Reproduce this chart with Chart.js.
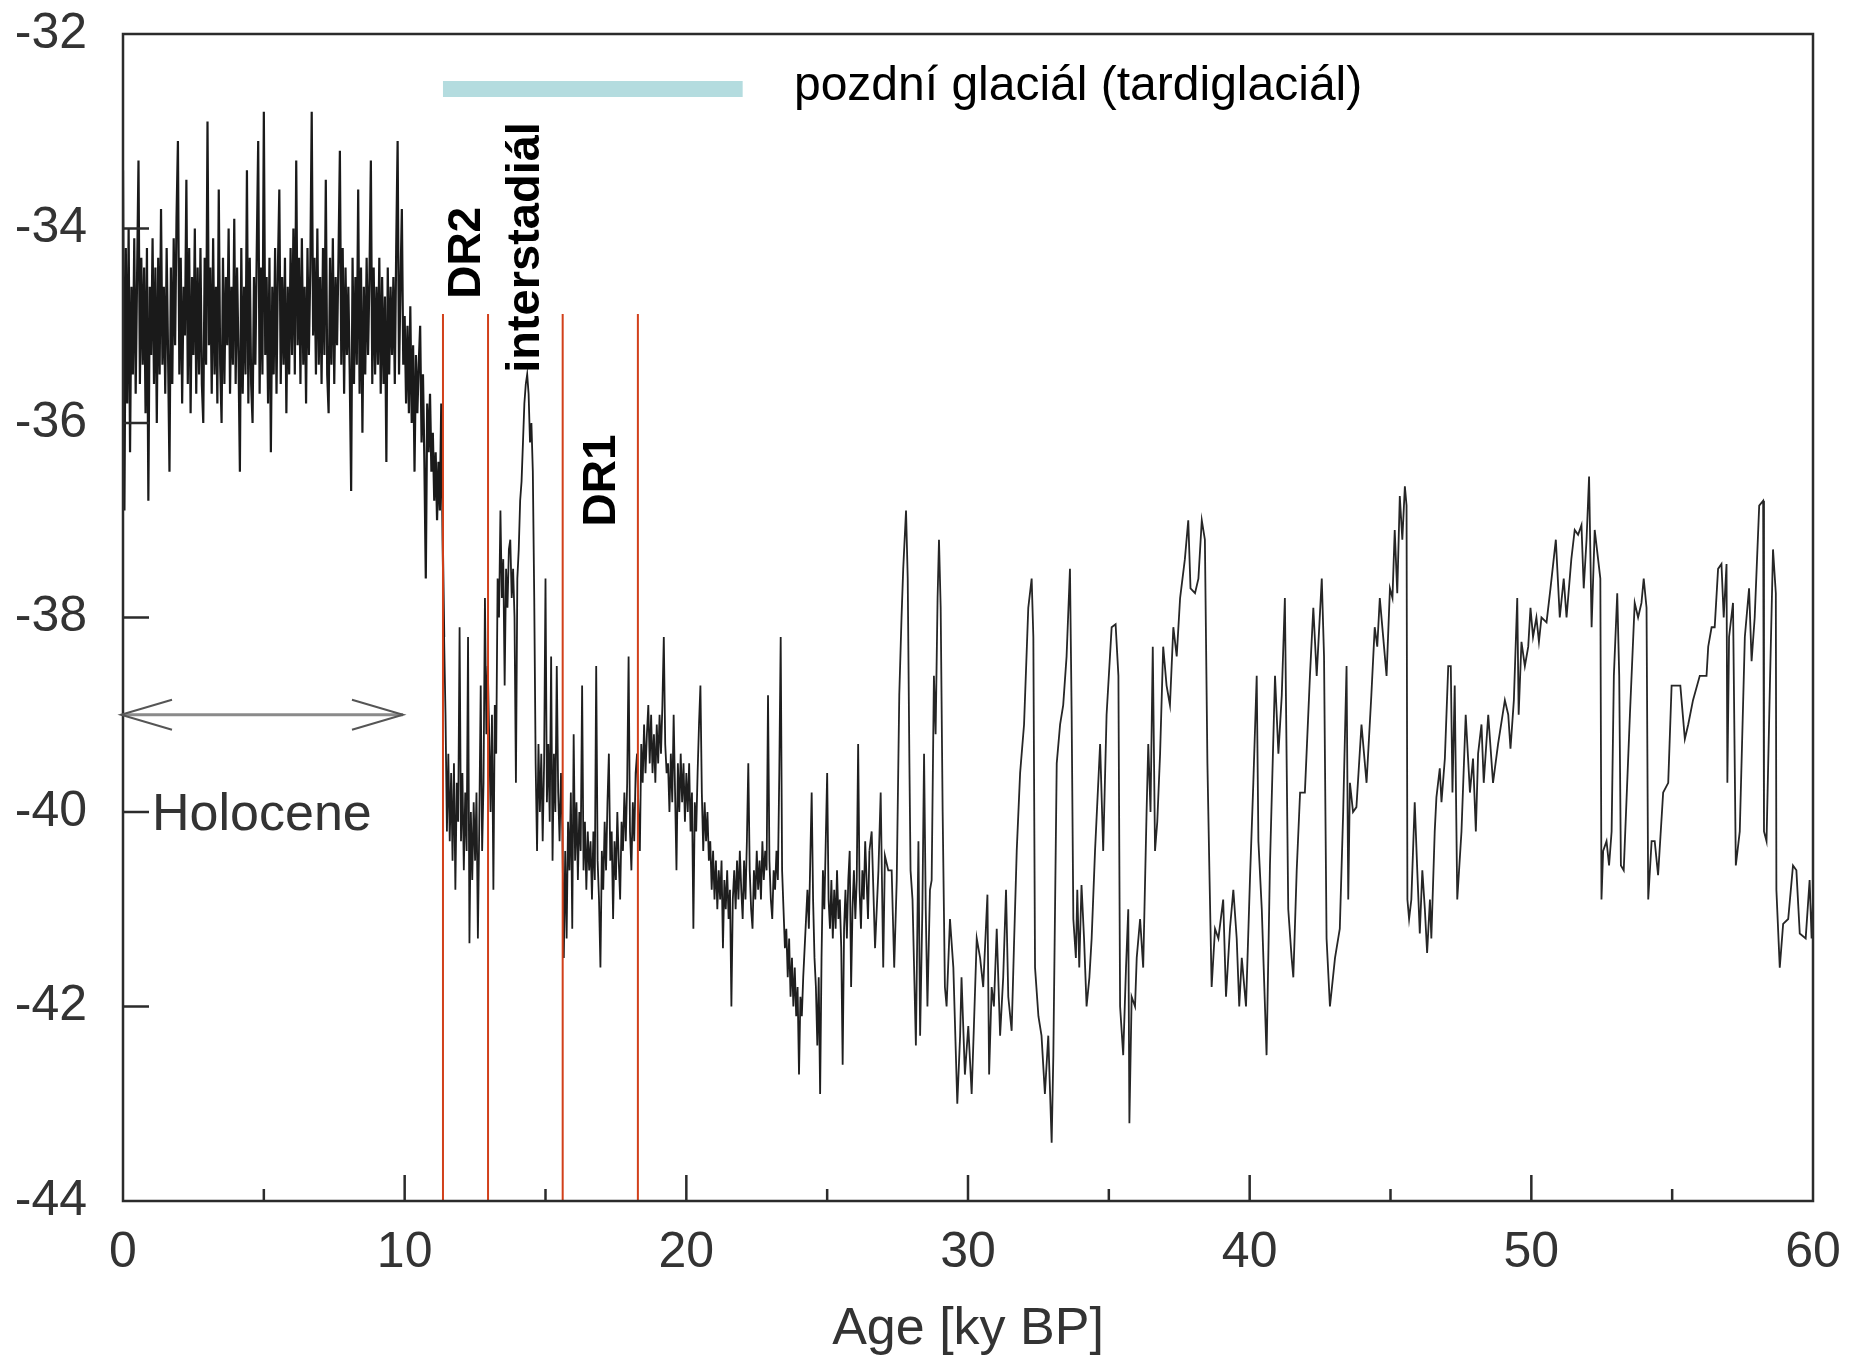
<!DOCTYPE html>
<html>
<head>
<meta charset="utf-8">
<script src="https://cdn.jsdelivr.net/npm/chart.js@4/dist/chart.umd.min.js"></script>
<style>
html,body{margin:0;padding:0;background:#fff;}
canvas{display:block;}
</style>
</head>
<body>
<canvas id="c" width="1849" height="1363"></canvas>
<script>
// ---------- DATA ----------
// Holocene section, ages in ky BP
const ageA = [
0,0.05,0.1,0.15,0.2,0.25,0.3,0.35,0.4,0.45,0.5,0.55,0.6,0.65,0.7,0.75,0.8,0.85,0.9,0.95,
1,1.05,1.1,1.15,1.2,1.25,1.3,1.35,1.4,1.45,1.5,1.55,1.6,1.65,1.7,1.75,1.8,1.85,1.9,1.95,
2,2.05,2.1,2.15,2.2,2.25,2.3,2.35,2.4,2.45,2.5,2.55,2.6,2.65,2.7,2.75,2.8,2.85,2.9,2.95,
3,3.05,3.1,3.15,3.2,3.25,3.3,3.35,3.4,3.45,3.5,3.55,3.6,3.65,3.7,3.75,3.8,3.85,3.9,3.95,
4,4.05,4.1,4.15,4.2,4.25,4.3,4.35,4.4,4.45,4.5,4.55,4.6,4.65,4.7,4.75,4.8,4.85,4.9,4.95,
5,5.05,5.1,5.15,5.2,5.25,5.3,5.35,5.4,5.45,5.5,5.55,5.6,5.65,5.7,5.75,5.8,5.85,5.9,5.95,
6,6.05,6.1,6.15,6.2,6.25,6.3,6.35,6.4,6.45,6.5,6.55,6.6,6.65,6.7,6.75,6.8,6.85,6.9,6.95,
7,7.05,7.1,7.15,7.2,7.25,7.3,7.35,7.4,7.45,7.5,7.55,7.6,7.65,7.7,7.75,7.8,7.85,7.9,7.95,
8,8.05,8.1,8.15,8.2,8.25,8.3,8.35,8.4,8.45,8.5,8.55,8.6,8.65,8.7,8.75,8.8,8.85,8.9,8.95,
9,9.05,9.1,9.15,9.2,9.25,9.3,9.35,9.4,9.45,9.5,9.55,9.6,9.65,9.7,9.75,9.8,9.85,9.9,9.95,
10,10.05,10.1,10.15,10.2,10.25,10.3,10.35,10.4,10.45,10.5,10.55,10.6,10.65,10.7,10.75,10.8,10.85,10.9,10.95,
11,11.05,11.1,11.15,11.2,11.25,11.3,11.35,11.4
];
const d18oA = [
-33.4,-36.9,-34.2,-35.8,-34.0,-36.3,-34.6,-35.5,-34.1,-35.7,-34.5,-33.3,-35.6,-34.3,-35.4,-34.4,-35.9,-34.2,-36.8,-34.6,
-35.3,-34.1,-35.6,-34.4,-36.0,-34.3,-35.5,-33.8,-35.4,-34.6,-35.7,-34.2,-35.3,-36.5,-34.4,-35.6,-34.1,-35.2,-33.9,-33.1,
-35.5,-34.3,-35.8,-34.6,-35.1,-33.5,-35.6,-34.2,-35.9,-34.5,-35.3,-34.0,-35.7,-34.4,-35.5,-34.2,-35.6,-36.0,-34.3,-35.4,
-32.9,-35.2,-34.4,-35.7,-34.1,-35.5,-34.6,-35.8,-33.6,-35.4,-36.0,-34.3,-35.6,-34.5,-35.2,-34.0,-35.7,-34.6,-35.4,-33.9,
-35.6,-34.4,-35.3,-36.5,-34.2,-35.7,-34.6,-35.5,-33.4,-35.8,-34.3,-35.6,-36.0,-34.5,-35.4,-34.2,-33.1,-35.7,-34.4,-35.5,
-32.8,-35.3,-34.5,-35.8,-34.3,-36.3,-34.6,-35.5,-34.2,-35.7,-34.4,-33.6,-35.6,-34.5,-35.4,-34.3,-35.9,-34.6,-35.5,-34.2,
-35.3,-34.0,-35.5,-33.3,-35.2,-34.3,-35.6,-34.1,-35.4,-34.6,-35.8,-34.2,-35.3,-34.4,-32.8,-35.1,-34.3,-35.5,-34.0,-35.4,
-34.5,-35.6,-34.2,-35.3,-33.5,-35.5,-35.9,-34.3,-35.4,-34.1,-35.6,-34.5,-35.2,-34.3,-33.2,-35.4,-34.2,-35.7,-34.4,-35.3,
-34.6,-35.5,-36.7,-34.3,-35.6,-34.5,-35.4,-33.6,-35.7,-34.4,-36.1,-34.6,-35.5,-34.3,-35.3,-34.5,-33.3,-35.6,-34.4,-35.5,
-34.6,-35.4,-34.3,-35.7,-34.5,-35.6,-34.7,-36.4,-34.4,-35.5,-34.6,-35.3,-34.5,-35.6,-34.2,-33.1,-35.5,-34.6,-33.8,-35.4,
-34.9,-35.8,-35.0,-35.9,-34.8,-36.0,-35.2,-36.5,-35.3,-35.9,-35.4,-35.0,-36.2,-35.5,-36.4,-37.6,-35.8,-36.3,-35.7,-36.5,
-36.1,-36.8,-36.3,-37.0,-36.4,-36.9,-35.8,-37.2,-38.2
];

// Late glacial and LGM section
const ageB = [
11.45,11.5,11.55,11.6,11.65,11.7,11.75,11.8,11.85,11.9,11.95,12,12.05,12.1,12.15,12.2,12.25,12.3,12.35,12.4,
12.45,12.5,12.55,12.6,12.65,12.7,12.75,12.8,12.85,12.9,12.95,13,13.05,13.1,13.15,13.2,13.25,13.3,13.35,13.4,
13.45,13.5,13.55,13.6,13.65,13.7,13.75,13.8,13.85,13.9,13.95,14,14.05,14.1,14.15,14.2,14.25,14.3,14.35,14.4,
14.45,14.5,14.55,14.6,14.65,14.7,14.75,14.8,14.85,14.9,14.95,15,15.05,15.1,15.15,15.2,15.25,15.3,15.35,15.4,
15.45,15.5,15.55,15.6,15.65,15.7,15.75,15.8,15.85,15.9,15.95,16,16.05,16.1,16.15,16.2,16.25,16.3,16.35,16.4,
16.45,16.5,16.55,16.6,16.65,16.7,16.75,16.8,16.85,16.9,16.95,17,17.05,17.1,17.15,17.2,17.25,17.3,17.35,17.4,
17.45,17.5,17.55,17.6,17.65,17.7,17.75,17.8,17.85,17.9,17.95,18,18.05,18.1,18.15,18.2,18.25,18.3,18.35,18.4,
18.45,18.5,18.55,18.6,18.65,18.7,18.75,18.8,18.85,18.9,18.95,19,19.05,19.1,19.15,19.2,19.25,19.3,19.35,19.4,
19.45,19.5,19.55,19.6,19.65,19.7,19.75,19.8,19.85,19.9,19.95,20,20.05,20.1,20.15,20.2,20.25,20.3,20.35,20.4,
20.45,20.5,20.55,20.6,20.65,20.7,20.75,20.8,20.85,20.9,20.95,21,21.05,21.1,21.15,21.2,21.25,21.3,21.35,21.4,
21.45,21.5,21.55,21.6,21.65,21.7,21.75,21.8,21.85,21.9,21.95,22,22.05,22.1,22.15,22.2,22.25,22.3,22.35,22.4,
22.45,22.5,22.55,22.6,22.65,22.7,22.75,22.8,22.85,22.9,22.95,23,23.05,23.1,23.15,23.2,23.25,23.3,23.35,23.4,
23.45,23.5,23.55,23.6,23.65,23.7,23.75,23.8,23.85,23.9,23.95,24,24.05,24.1,24.15,24.2,24.25,24.3,24.35,24.4,
24.45,24.5,24.55,24.6,24.65,24.7,24.75,24.8,24.85,24.9,24.95,25,25.05,25.1,25.15,25.2,25.25,25.3,25.35,25.4,
25.45,25.5,25.55,25.6,25.65,25.7,25.75,25.8,25.85,25.9,25.95,26,26.05,26.1,26.15,26.2,26.25,26.3,26.35,26.4,
26.45,26.5
];
const d18oB = [
-39.0,-40.2,-39.4,-40.3,-39.6,-40.5,-39.5,-40.8,-39.7,-40.1,-38.1,-40.3,-39.6,-40.6,-39.8,-40.4,-38.2,-41.35,-40.0,-40.7,
-39.9,-40.5,-39.8,-41.3,-40.1,-38.7,-40.4,-39.7,-37.8,-39.2,-38.5,-39.2,-40.0,-39.0,-40.8,-38.9,-39.4,-37.6,-38.0,-36.9,
-37.8,-37.4,-38.7,-37.5,-37.9,-37.3,-37.2,-37.8,-37.5,-38.0,-39.7,-37.6,-37.3,-36.8,-36.6,-36.2,-35.8,-35.6,-35.5,-35.7,
-36.2,-36.0,-36.5,-37.8,-39.5,-40.4,-39.3,-40.0,-39.4,-40.3,-39.5,-37.6,-39.9,-39.3,-40.1,-38.4,-40.5,-39.4,-40.0,-38.5,
-39.8,-40.3,-39.6,-40.2,-41.5,-40.4,-41.3,-40.1,-40.6,-39.8,-41.2,-39.2,-40.5,-39.9,-40.7,-40.0,-40.4,-38.7,-40.6,-40.1,
-40.8,-40.2,-40.6,-40.3,-40.9,-40.2,-40.7,-38.5,-40.5,-40.9,-41.6,-40.4,-40.8,-40.1,-40.6,-39.9,-39.4,-40.5,-40.2,-41.1,
-40.3,-40.7,-40.0,-40.5,-40.9,-40.1,-40.4,-39.8,-40.3,-39.7,-38.4,-40.2,-40.6,-39.9,-40.3,-39.6,-39.4,-40.0,-40.4,-39.3,
-39.7,-39.1,-39.6,-39.2,-38.9,-39.5,-39.0,-39.6,-39.2,-39.7,-39.1,-39.5,-39.0,-39.4,-38.9,-38.2,-39.3,-39.6,-39.5,-40.0,
-39.4,-39.9,-39.0,-39.8,-40.6,-39.5,-40.0,-39.4,-39.9,-39.5,-40.1,-39.6,-40.0,-39.5,-40.2,-39.8,-41.2,-39.9,-40.2,-39.6,
-39.1,-38.7,-39.8,-40.4,-39.9,-40.3,-40.0,-40.5,-40.3,-40.8,-40.4,-40.9,-40.5,-41.0,-40.6,-40.9,-40.5,-41.4,-40.7,-41.0,
-40.6,-41.1,-40.8,-42.0,-40.9,-40.6,-41.0,-40.5,-40.9,-40.4,-40.8,-41.1,-40.5,-40.9,-40.3,-39.5,-40.6,-41.0,-41.2,-40.6,
-40.9,-40.4,-40.8,-40.5,-40.9,-40.3,-40.7,-40.4,-40.6,-38.8,-40.5,-40.9,-41.1,-40.6,-40.8,-40.4,-40.7,-39.6,-38.2,-40.6,
-41.0,-41.4,-41.2,-41.7,-41.3,-41.9,-41.5,-42.0,-41.6,-42.1,-41.8,-42.7,-41.9,-42.1,-41.7,-41.4,-41.1,-40.8,-41.2,-40.5,
-39.8,-40.9,-41.5,-41.8,-42.4,-41.7,-42.9,-41.5,-40.6,-41.0,-40.3,-39.6,-40.9,-41.2,-40.7,-41.3,-40.8,-41.2,-40.6,-41.1,
-40.9,-41.4,-42.6,-41.2,-40.8,-41.3,-40.7,-40.4,-41.8,-41.0,-40.6,-41.1,-40.7,-39.3,-40.8,-41.2,-40.6,-40.9,-40.3,-40.7,
-41.1,-40.4
];

// Glacial stadial / interstadial section
const ageC = [
26.58,26.70,26.82,26.90,26.99,27.05,27.17,27.29,27.38,27.47,
27.56,27.64,27.70,27.80,27.86,27.92,27.96,28.03,28.15,28.24,
28.30,28.38,28.44,28.50,28.56,28.65,28.71,28.79,28.85,28.92,
28.97,29.03,29.10,29.18,29.24,29.36,29.48,29.62,29.72,29.77,
29.89,30.01,30.13,30.21,30.31,30.43,30.54,30.69,30.75,30.84,
30.92,31.02,31.14,31.25,31.35,31.43,31.55,31.63,31.73,31.85,
31.99,32.14,32.26,32.32,32.38,32.50,32.61,32.73,32.85,32.97,
33.03,33.15,33.27,33.38,33.50,33.62,33.68,33.74,33.83,33.88,
33.95,34.03,34.12,34.21,34.31,34.39,34.51,34.69,34.80,34.92,
35.10,35.24,35.34,35.40,35.51,35.61,35.69,35.73,35.81,35.93,
35.99,36.11,36.22,36.34,36.40,36.48,36.56,36.64,36.72,36.82,
36.93,37.05,37.17,37.29,37.41,37.53,37.70,37.82,37.90,38.06,
38.18,38.30,38.41,38.50,38.57,38.65,38.77,38.89,39.06,39.16,
39.30,39.42,39.54,39.63,39.72,39.87,40.01,40.13,40.25,40.31,
40.43,40.60,40.72,40.90,41.02,41.14,41.25,41.37,41.49,41.55,
41.67,41.79,41.96,42.14,42.26,42.38,42.56,42.64,42.73,42.85,
43.03,43.20,43.32,43.44,43.50,43.56,43.67,43.79,43.97,44.15,
44.32,44.44,44.53,44.62,44.74,44.86,44.98,45.07,45.15,45.24,
45.33,45.42,45.51,45.57,45.60,45.66,45.74,45.86,45.95,46.04,
46.13,46.22,46.30,46.40,46.45,46.57,46.63,46.75,46.81,46.93,
47.05,47.14,47.20,47.28,47.37,47.52,47.67,47.82,47.93,48.03,
48.11,48.23,48.31,48.47,48.64,48.82,49.06,49.18,49.26,49.38,
49.50,49.55,49.65,49.77,49.89,49.97,50.06,50.18,50.27,50.36,
50.54,50.68,50.87,51.01,51.15,51.25,51.42,51.54,51.66,51.78,
51.86,51.96,52.05,52.14,52.25,52.37,52.45,52.49,52.55,52.67,
52.76,52.85,52.93,53.05,53.12,53.18,53.28,53.50,53.67,53.79,
53.91,53.99,54.09,54.15,54.27,54.38,54.50,54.68,54.86,54.98,
55.15,55.29,55.45,55.57,55.74,55.98,56.22,56.28,56.40,56.51,
56.63,56.75,56.83,56.93,56.96,57.02,57.16,57.26,57.40,57.58,
57.73,57.82,57.93,58.09,58.23,58.26,58.35,58.47,58.58,58.68,
58.70,58.82,58.94,59.12,59.29,59.41,59.53,59.74,59.88,59.95,
60.00
];
const d18oC = [
-40.2,-41.4,-40.6,-39.8,-41.6,-40.45,-40.6,-40.6,-41.6,-40.7,
-38.8,-38.0,-37.5,-36.9,-37.6,-39.5,-40.6,-40.9,-42.4,-40.3,
-42.3,-41.0,-39.4,-41.0,-42.0,-40.8,-40.7,-38.6,-39.2,-37.8,
-37.2,-37.9,-40.0,-41.8,-42.0,-41.1,-41.6,-43.0,-42.3,-41.7,
-42.7,-42.2,-42.9,-42.2,-41.3,-41.5,-41.8,-40.85,-42.7,-41.8,
-42.0,-41.2,-42.3,-41.7,-40.8,-41.9,-42.25,-41.4,-40.4,-39.6,
-39.1,-37.9,-37.6,-38.2,-41.6,-42.1,-42.3,-42.9,-42.3,-43.4,
-42.5,-39.5,-39.1,-38.9,-38.4,-37.5,-39.0,-41.1,-41.5,-40.8,
-41.6,-40.75,-41.3,-42.0,-41.7,-41.3,-40.4,-39.3,-40.4,-39.0,
-38.1,-38.07,-38.6,-42.0,-42.5,-41.6,-41.0,-43.2,-41.9,-42.0,
-41.5,-41.1,-41.6,-40.0,-39.3,-40.0,-38.3,-40.4,-40.1,-39.4,
-38.3,-38.7,-38.9,-38.1,-38.4,-37.8,-37.4,-37.0,-37.7,-37.75,
-37.6,-37.0,-37.2,-39.5,-40.6,-41.8,-41.2,-41.3,-40.9,-41.9,
-41.2,-40.8,-41.3,-42.0,-41.5,-42.0,-40.7,-39.7,-38.6,-40.3,
-41.0,-42.5,-40.55,-38.6,-39.4,-38.8,-37.8,-41.0,-41.5,-41.7,
-40.6,-39.8,-39.8,-38.6,-37.9,-38.6,-37.6,-38.4,-41.3,-42.0,
-41.5,-41.2,-40.0,-38.5,-40.9,-39.7,-40.0,-39.95,-39.1,-39.7,
-38.8,-38.1,-38.3,-37.8,-38.2,-38.6,-37.7,-37.8,-37.1,-37.75,
-36.75,-37.2,-36.65,-36.85,-40.9,-41.1,-40.9,-39.9,-40.6,-41.25,
-40.6,-41.0,-41.45,-40.9,-41.3,-40.2,-39.85,-39.55,-39.9,-39.45,
-38.5,-38.5,-39.8,-38.7,-40.9,-40.2,-39.0,-39.8,-39.45,-40.2,
-39.4,-39.1,-39.7,-39.0,-39.7,-39.3,-38.85,-39.0,-39.35,-38.85,
-37.8,-39.0,-38.25,-38.5,-38.3,-37.9,-38.2,-38.0,-38.25,-38.0,
-38.05,-37.7,-37.2,-38.0,-37.6,-38.0,-37.4,-37.1,-37.15,-37.05,
-37.7,-37.2,-36.55,-38.1,-37.1,-37.4,-37.6,-40.9,-40.4,-40.3,
-40.55,-40.2,-38.6,-37.75,-38.6,-40.55,-40.6,-39.0,-37.85,-38.0,
-37.85,-37.6,-37.9,-40.9,-40.3,-40.3,-40.65,-39.8,-39.7,-38.7,
-38.7,-38.7,-39.25,-39.1,-38.85,-38.6,-38.6,-38.3,-38.1,-38.1,
-37.5,-37.45,-38.0,-37.45,-39.7,-38.2,-37.85,-40.55,-40.2,-38.2,
-37.7,-38.45,-38.0,-36.85,-36.8,-40.2,-40.3,-38.7,-37.3,-37.75,
-40.8,-41.6,-41.15,-41.1,-40.55,-40.6,-41.25,-41.3,-40.7,-41.3,
-40.9
];

// Axis ticks
const xTickLabels = [0, 10, 20, 30, 40, 50, 60];
const xMinorTicks = [5, 15, 25, 35, 45, 55];
const yTickLabels = [-44, -42, -40, -38, -36, -34, -32];
const yTickMarks = [-42, -40, -38, -36, -34];

// Annotated ages (ky BP)
const boundaryAges = [11.36, 12.96, 15.61, 18.28];   // red boundary lines
const lateGlacialSpan = [11.36, 22.0];                 // teal bar
const holoceneSpan = [0, 9.94];                        // arrow

// ---------- LAYOUT / STYLE (not data) ----------
const FONT = '"Liberation Sans", Arial, Helvetica, sans-serif';
const AREA = {left: 123, top: 34, right: 1813, bottom: 1201};
const ANN = {
  boundaryTop: -34.88,
  barLevel: -32.565,
  arrowLevel: -39.0,
  glacialText: {x: 23.82, y: -32.68},
  dr2: {x: 12.68, y: -34.25},
  inter: {x: 14.785, y: -34.195},
  dr1: {x: 17.465, y: -36.59},
  holocene: {x: 1.03, y: -40.185}
};

function toPoints(ages, vals) {
  const n = Math.min(ages.length, vals.length);
  const out = [];
  for (let i = 0; i < n; i++) out.push({x: ages[i], y: vals[i]});
  return out;
}
const ptsA = toPoints(ageA, d18oA);
const ptsB = [ptsA[ptsA.length - 1]].concat(toPoints(ageB, d18oB));
const ptsC = [ptsB[ptsB.length - 1]].concat(toPoints(ageC, d18oC));

const datasets = [];
boundaryAges.forEach(a => datasets.push({
  data: [{x: a, y: ANN.boundaryTop}, {x: a, y: -44}],
  borderColor: '#d2401a', borderWidth: 2, pointRadius: 0, fill: false
}));
datasets.push({
  data: [{x: lateGlacialSpan[0], y: ANN.barLevel}, {x: lateGlacialSpan[1], y: ANN.barLevel}],
  borderColor: '#b4dcdf', borderWidth: 16, borderCapStyle: 'butt', pointRadius: 0, fill: false
});
datasets.push({
  data: [{x: holoceneSpan[0], y: ANN.arrowLevel}, {x: holoceneSpan[1], y: ANN.arrowLevel}],
  borderColor: '#8a8a8a', borderWidth: 3, pointRadius: 0, fill: false
});
datasets.push({data: ptsC, borderColor: '#262626', borderWidth: 1.8, pointRadius: 0, fill: false});
datasets.push({data: ptsB, borderColor: '#1e1e1e', borderWidth: 1.8, pointRadius: 0, fill: false});
datasets.push({data: ptsA, borderColor: '#1a1a1a', borderWidth: 2.2, pointRadius: 0, fill: false});

const decorPlugin = {
  id: 'decor',
  afterDatasetsDraw(chart) {
    const {ctx, chartArea: a, scales: {x, y}} = chart;
    ctx.save();
    // frame
    ctx.strokeStyle = '#2b2b2b';
    ctx.lineWidth = 2.5;
    ctx.strokeRect(a.left, a.top, a.right - a.left, a.bottom - a.top);
    // inward tick marks
    ctx.beginPath();
    xTickLabels.concat(xMinorTicks).forEach(v => {
      if (v <= 0 || v >= 60) return;
      const px = x.getPixelForValue(v);
      const len = (v % 10 === 0) ? 26 : 12;
      ctx.moveTo(px, a.bottom); ctx.lineTo(px, a.bottom - len);
    });
    yTickMarks.forEach(v => {
      const py = y.getPixelForValue(v);
      ctx.moveTo(a.left, py); ctx.lineTo(a.left + 26, py);
    });
    ctx.stroke();
    // Holocene arrow heads
    const ay = y.getPixelForValue(ANN.arrowLevel);
    const lx = x.getPixelForValue(holoceneSpan[0]) - 2;
    const rx = x.getPixelForValue(holoceneSpan[1]);
    ctx.strokeStyle = '#555';
    ctx.lineWidth = 2;
    ctx.beginPath();
    ctx.moveTo(lx + 51, ay - 15); ctx.lineTo(lx, ay); ctx.lineTo(lx + 51, ay + 15);
    ctx.moveTo(rx - 51, ay - 15); ctx.lineTo(rx, ay); ctx.lineTo(rx - 51, ay + 15);
    ctx.stroke();
    // texts
    ctx.fillStyle = '#000';
    ctx.textAlign = 'left';
    ctx.textBaseline = 'alphabetic';
    ctx.font = '48px ' + FONT;
    ctx.fillText('pozdní glaciál (tardiglaciál)', x.getPixelForValue(ANN.glacialText.x), y.getPixelForValue(ANN.glacialText.y));
    const rot = (txt, p, size) => {
      ctx.save();
      ctx.translate(x.getPixelForValue(p.x), y.getPixelForValue(p.y));
      ctx.rotate(-Math.PI / 2);
      ctx.font = 'bold ' + size + 'px ' + FONT;
      ctx.textAlign = 'center';
      ctx.textBaseline = 'alphabetic';
      ctx.fillText(txt, 0, 0);
      ctx.restore();
    };
    rot('DR2', ANN.dr2, 46);
    rot('interstadiál', ANN.inter, 47);
    rot('DR1', ANN.dr1, 46);
    ctx.fillStyle = '#333';
    ctx.font = '52px ' + FONT;
    ctx.textAlign = 'left';
    ctx.fillText('Holocene', x.getPixelForValue(ANN.holocene.x), y.getPixelForValue(ANN.holocene.y));
    ctx.restore();
  }
};

const chart = new Chart(document.getElementById('c'), {
  type: 'line',
  data: {datasets},
  options: {
    responsive: false,
    animation: false,
    devicePixelRatio: 1,
    parsing: false,
    normalized: true,
    layout: {padding: {top: 34, right: 36, left: 0, bottom: 0}},
    plugins: {legend: {display: false}, tooltip: {enabled: false}},
    elements: {line: {tension: 0}},
    scales: {
      x: {
        type: 'linear', min: 0, max: 60,
        afterBuildTicks: s => { s.ticks = xTickLabels.map(v => ({value: v})); },
        afterFit: s => {
          s.height = 1363 - AREA.bottom;
          s.paddingLeft = 0; s.paddingRight = 0;
        },
        ticks: {font: {family: FONT, size: 50}, color: '#333', padding: 22, maxRotation: 0, autoSkip: false,
                callback: v => String(v)},
        grid: {display: false, drawTicks: false},
        border: {display: false},
        title: {display: true, text: 'Age [ky BP]', font: {family: FONT, size: 52}, color: '#333',
                padding: {top: 0, bottom: 2}}
      },
      y: {
        type: 'linear', min: -44, max: -32,
        afterBuildTicks: s => { s.ticks = yTickLabels.map(v => ({value: v})); },
        afterFit: s => {
          s.width = AREA.left;
          s.paddingTop = 0; s.paddingBottom = 0;
        },
        ticks: {font: {family: FONT, size: 50}, color: '#333', padding: 36, autoSkip: false,
                callback: v => String(v)},
        grid: {display: false, drawTicks: false},
        border: {display: false}
      }
    }
  },
  plugins: [decorPlugin]
});

// nudge the layout padding so that the plotting area lands where the reference has it
for (let k = 0; k < 12; k++) {
  const ca = chart.chartArea;
  const dTop = AREA.top - ca.top;
  const dRight = ca.right - AREA.right;
  if (Math.abs(dTop) < 0.5 && Math.abs(dRight) < 0.5) break;
  const p = chart.options.layout.padding;
  p.top = Math.max(0, p.top + dTop * 0.5);
  p.right = Math.max(0, p.right + dRight * 0.5);
  chart.update();
}
</script>
</body>
</html>
